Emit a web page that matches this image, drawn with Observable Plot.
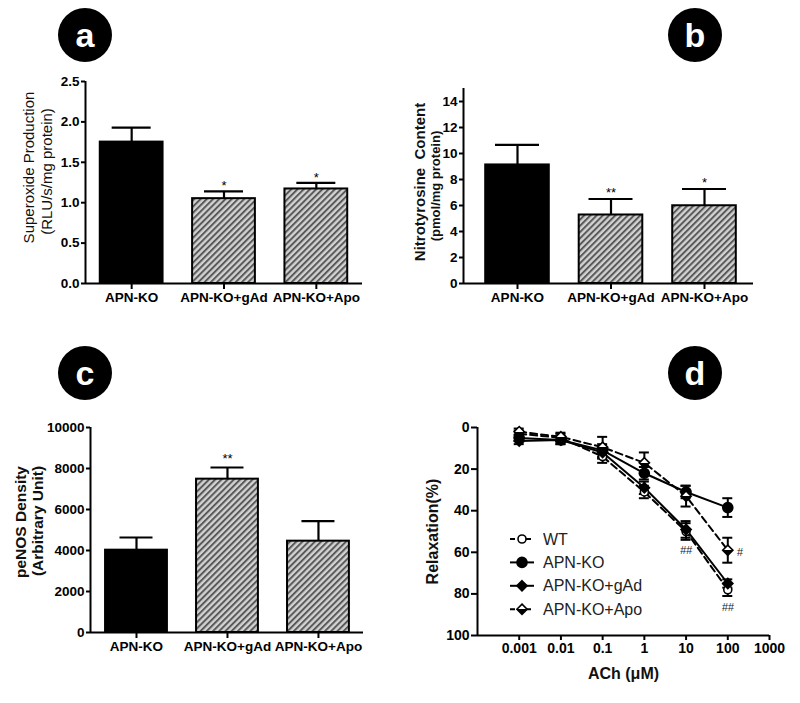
<!DOCTYPE html>
<html><head><meta charset="utf-8">
<script src="https://cdn.jsdelivr.net/npm/d3@7"></script>
<script src="https://cdn.jsdelivr.net/npm/@observablehq/plot@0.6"></script>
<style>
body{margin:0;background:#fff;font-family:"Liberation Sans",Arial,sans-serif;}
#fig{position:relative;width:800px;height:703px;overflow:hidden;background:#fff;}
.panel{position:absolute;}
.badge{position:absolute;width:54px;height:54px;border-radius:50%;background:#000;color:#fff;font:bold 34px "Liberation Sans",Arial,sans-serif;display:flex;align-items:center;justify-content:center;line-height:1;}
</style></head><body>
<svg width="0" height="0" style="position:absolute">
<defs>
<pattern id="hatch" patternUnits="userSpaceOnUse" width="4.4" height="4.4" patternTransform="rotate(45)">
<rect width="4.4" height="4.4" fill="#d2d2d2"/>
<rect width="2" height="4.4" fill="#595959"/>
</pattern>
<linearGradient id="halfFill" x1="0" y1="0" x2="0" y2="1">
<stop offset="0.5" stop-color="#fff"/><stop offset="0.5" stop-color="#000"/>
</linearGradient>
</defs>
</svg>
<div id="fig"></div>
<script>
// ---------- data ----------
const barCats = ["APN-KO", "APN-KO+gAd", "APN-KO+Apo"];
const barFills = ["#000", "url(#hatch)", "url(#hatch)"];

const superoxideMean = [1.75, 1.05, 1.17];
const superoxideUpper = [1.93, 1.14, 1.245];
const superoxideSig = ["", "*", "*"];
const superoxideTicks = [0, 0.5, 1.0, 1.5, 2.0, 2.5];

const nitroMean = [9.12, 5.27, 5.98];
const nitroUpper = [10.66, 6.5, 7.27];
const nitroSig = ["", "**", "*"];
const nitroTicks = [0, 2, 4, 6, 8, 10, 12, 14];

const penosMean = [4016, 7480, 4455];
const penosUpper = [4634, 8049, 5431];
const penosSig = ["", "**", ""];
const penosTicks = [0, 2000, 4000, 6000, 8000, 10000];

const doses = [0.001, 0.01, 0.1, 1, 10, 100];
const doseTicks = [0.001, 0.01, 0.1, 1, 10, 100, 1000];
const relaxTicks = [0, 20, 40, 60, 80, 100];
const seriesNames = ["WT", "APN-KO", "APN-KO+gAd", "APN-KO+Apo"];
const wtMean  = [3, 5, 14, 31, 50, 78];
const wtErr   = [1.5, 2, 3, 3, 4, 3];
const koMean  = [5, 6, 11, 22, 31, 38.5];
const koErr   = [1.5, 2, 3, 3, 3, 4.5];
const gadMean = [6.5, 6, 12, 29, 49, 75];
const gadErr  = [1.5, 2, 3, 3, 4, 2];
const apoMean = [2, 4.5, 9.5, 17, 33, 59];
const apoErr  = [1.5, 2, 5, 5, 5, 6];

const annDose  = [10, 100, 100];
const annValue = [59, 60, 86.5];
const annText  = ["##", "#", "##"];

// ---------- styles ----------
const FONT = "'Liberation Sans', Arial, sans-serif";
const seriesStyle = [
  {dash: "7,4", symbol: "circle", fill: "#fff", r: 4},
  {dash: null, symbol: "circle", fill: "#000", r: 5},
  {dash: null, symbol: "diamond2", fill: "#000", r: 4.6},
  {dash: "7,4", symbol: "diamond2", fill: "url(#halfFill)", r: 4.6}
];

const fig = document.getElementById("fig");
function place(node, left, top) {
  const d = document.createElement("div");
  d.className = "panel"; d.style.left = left + "px"; d.style.top = top + "px";
  d.appendChild(node); fig.appendChild(d);
}
function badge(letter, cx, cy) {
  const b = document.createElement("div");
  b.className = "badge"; b.textContent = letter;
  b.style.left = (cx - 27) + "px"; b.style.top = (cy - 27) + "px";
  fig.appendChild(b);
}

function barPanel(o) {
  const data = barCats.map((c, i) => ({cat: c, x: i + 1, mean: o.mean[i], upper: o.upper[i], sig: o.sig[i], fill: barFills[i]}));
  const marks = [
    Plot.rectY(data, {x1: d => d.x - 0.34, x2: d => d.x + 0.34, y1: 0, y2: "mean", fill: "fill", stroke: "#000", strokeWidth: 2}),
    Plot.ruleX(data, {x: "x", y1: "mean", y2: "upper", strokeWidth: 2.2}),
    Plot.ruleY(data, {x1: "x", x2: "x", y: "upper", insetLeft: -o.cap, insetRight: -o.cap, strokeWidth: 2.2}),
    Plot.text(data.filter(d => d.sig), {x: "x", y: "upper", text: "sig", lineAnchor: "bottom", dy: o.sigDy, fontSize: 13, fontWeight: "normal"}),
    Plot.ruleY([0], {strokeWidth: 2}),
    Plot.ruleX([o.xDomain[0]], {y1: 0, y2: o.yTop, strokeWidth: 2}),
    Plot.axisY({ticks: o.ticks, tickFormat: o.fmt, tickSize: 4, tickPadding: 2, strokeWidth: 2, label: null, fontSize: 13.5}),
    Plot.axisX({ticks: [1, 2, 3], tickFormat: i => barCats[i - 1], tickSize: 6, tickPadding: 3, strokeWidth: 2, label: null, fontSize: 13.5})
  ];
  o.titles.forEach(t => marks.push(Plot.text([t.text], {frameAnchor: "left", textAnchor: "middle", rotate: -90, dx: t.dx, dy: t.dy, fontSize: t.size, fontWeight: t.weight, fill: "#111"})));
  return Plot.plot({
    width: 400, height: o.height,
    marginLeft: o.ml, marginRight: o.mr, marginTop: o.mt, marginBottom: o.mb,
    x: {type: "linear", domain: o.xDomain},
    y: {domain: [0, o.yTop]},
    color: {type: "identity"},
    style: {fontFamily: FONT, fontSize: "13px", fontWeight: "bold", color: "#000", background: "transparent", overflow: "visible"},
    marks
  });
}

// Panel a
place(barPanel({
  mean: superoxideMean, upper: superoxideUpper, sig: superoxideSig,
  ticks: superoxideTicks, fmt: d3.format(".1f"), yTop: 2.5,
  xDomain: [0.5, 3.5], height: 320, ml: 85, mr: 38, mt: 81, mb: 37, cap: 19.5, sigDy: -1,
  titles: [
    {text: "Superoxide Production", dx: -56, dy: -15, size: 15, weight: "normal"},
    {text: "(RLU/s/mg protein)", dx: -38, dy: -11, size: 15, weight: "normal"}
  ]
}), 0, 0);

// Panel b
place(barPanel({
  mean: nitroMean, upper: nitroUpper, sig: nitroSig,
  ticks: nitroTicks, fmt: d3.format("d"), yTop: 15,
  xDomain: [0.4225, 3.524], height: 320, ml: 63, mr: 47, mt: 88, mb: 37, cap: 22, sigDy: -2,
  titles: [
    {text: "Nitrotyrosine  Content", dx: -43, dy: -4, size: 15, weight: "bold"},
    {text: "(pmol/mg protein)", dx: -28, dy: 0, size: 13, weight: "bold"}
  ]
}), 400, 0);

// Panel c
place(barPanel({
  mean: penosMean, upper: penosUpper, sig: penosSig,
  ticks: penosTicks, fmt: d3.format("d"), yTop: 10000,
  xDomain: [0.4945, 3.495], height: 383, ml: 90, mr: 37, mt: 107, mb: 71, cap: 16.5, sigDy: -4,
  titles: [
    {text: "peNOS Density", dx: -69, dy: -8, size: 15.5, weight: "bold"},
    {text: "(Arbitrary Unit)", dx: -52, dy: -9, size: 15.5, weight: "bold"}
  ]
}), 0, 320);

// Panel d
const means = [wtMean, koMean, gadMean, apoMean];
const errs = [wtErr, koErr, gadErr, apoErr];
const rows = [];
seriesNames.forEach((s, si) => doses.forEach((dose, i) => rows.push({series: s, si, dose, mean: means[si][i], err: errs[si][i]})));
const ann = annText.map((t, i) => ({dose: annDose[i], value: annValue[i], text: t}));

const dMarks = [];
seriesNames.forEach((s, si) => {
  dMarks.push(Plot.line(rows.filter(r => r.si === si), {x: "dose", y: "mean", stroke: "#000", strokeWidth: 2, strokeDasharray: seriesStyle[si].dash || undefined}));
});
dMarks.push(
  Plot.ruleX(rows, {x: "dose", y1: d => d.mean - d.err, y2: d => d.mean + d.err, strokeWidth: 2}),
  Plot.ruleY(rows, {x1: "dose", x2: "dose", y: d => d.mean - d.err, insetLeft: -5, insetRight: -5, strokeWidth: 2}),
  Plot.ruleY(rows, {x1: "dose", x2: "dose", y: d => d.mean + d.err, insetLeft: -5, insetRight: -5, strokeWidth: 2})
);
seriesNames.forEach((s, si) => {
  const st = seriesStyle[si];
  dMarks.push(Plot.dot(rows.filter(r => r.si === si), {x: "dose", y: "mean", symbol: st.symbol, r: st.r, fill: st.fill, stroke: "#000", strokeWidth: 1.6}));
});
dMarks.push(
  Plot.text(ann, {x: "dose", y: "value", text: "text", fontSize: 11, fontWeight: "normal", fontStyle: "italic", fill: "#222"}),
  Plot.ruleY([100], {strokeWidth: 2}),
  Plot.ruleX([0.0001], {y1: 0, y2: 100, strokeWidth: 2}),
  Plot.axisX({ticks: doseTicks, tickFormat: d => String(d), tickSize: 5, tickPadding: 3, strokeWidth: 2, label: null, fontSize: 14}),
  Plot.axisY({ticks: relaxTicks, tickFormat: d3.format("d"), tickSize: 6, tickPadding: 2, strokeWidth: 2, label: null, fontSize: 14}),
  Plot.text(["Relaxation(%)"], {frameAnchor: "left", textAnchor: "middle", rotate: -90, dx: -45, dy: 0, fontSize: 16, fontWeight: "bold", fill: "#111"}),
  Plot.text(["ACh (\u03bcM)"], {frameAnchor: "bottom", dy: 43, fontSize: 16, fontWeight: "bold", fill: "#111"})
);
const plotD = Plot.plot({
  width: 400, height: 383,
  marginLeft: 77, marginRight: 31, marginTop: 107, marginBottom: 68,
  x: {type: "log", domain: [0.0001, 1000]},
  y: {domain: [0, 100], reverse: true},
  style: {fontFamily: FONT, fontSize: "14px", fontWeight: "bold", color: "#000", background: "transparent", overflow: "visible"},
  marks: dMarks
});
place(plotD, 400, 320);
// shift "#" beside its point
d3.select(plotD).selectAll("text").filter(function() { return this.textContent === "#"; }).attr("dx", 12);

// Legend for panel d
const leg = d3.create("svg").attr("width", 150).attr("height", 100).style("overflow", "visible");
seriesNames.forEach((s, si) => {
  const st = seriesStyle[si];
  const g = leg.append("g").attr("transform", `translate(0,${11 + si * 23.4})`);
  g.append("line").attr("x1", 5).attr("x2", 29).attr("stroke", "#000").attr("stroke-width", 2)
    .attr("stroke-dasharray", st.dash ? "5,3" : null);
  const sym = st.symbol === "circle" ? d3.symbolCircle : d3.symbolDiamond2;
  const size = Math.PI * st.r * st.r;
  g.append("path").attr("transform", "translate(17,0)").attr("d", d3.symbol(sym, size)())
    .attr("fill", st.fill).attr("stroke", "#000").attr("stroke-width", 1.6);
  g.append("text").attr("x", 38).attr("dy", "0.35em").attr("font-family", FONT).attr("font-size", 16).attr("fill", "#222").text(s);
});
place(leg.node(), 505, 528);

badge("a", 85, 35);
badge("b", 695, 35);
badge("c", 85, 373);
badge("d", 695, 373);
</script>
</body></html>
